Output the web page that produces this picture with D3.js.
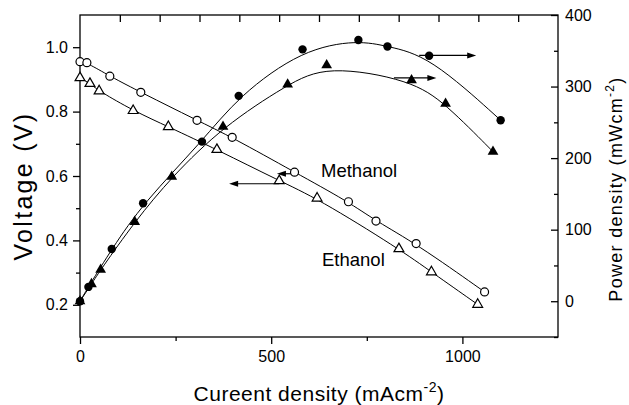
<!DOCTYPE html>
<html>
<head>
<meta charset="utf-8">
<script src="https://cdn.jsdelivr.net/npm/d3@7"></script>
<style>
  html, body { margin: 0; padding: 0; background: #fff; }
  svg { display: block; font-family: "Liberation Sans", Arial, Helvetica, sans-serif; }
</style>
</head>
<body>
<svg id="chart" width="629" height="405"></svg>
<script>
// ---- Data ----
// Methanol polarisation curve (voltage, left axis)
const methanolVI = [0, 18, 78, 159, 306, 398, 561, 702, 774, 879, 1058];
const methanolV  = [0.955, 0.952, 0.910, 0.860, 0.773, 0.720, 0.612, 0.520, 0.460, 0.390, 0.240];
// Ethanol polarisation curve (voltage, left axis)
const ethanolVI = [0, 26, 50, 139, 231, 358, 521, 620, 834, 919, 1040];
const ethanolV  = [0.905, 0.887, 0.864, 0.803, 0.753, 0.682, 0.585, 0.531, 0.374, 0.302, 0.201];
// Methanol power density (right axis)
const methanolPI = [0, 22, 83, 165, 319, 415, 582, 728, 804, 913, 1100];
const methanolP  = [0, 20, 73, 137, 223, 287, 352, 365, 356, 343, 253];
// Ethanol power density (right axis)
const ethanolPI = [0, 30, 54, 143, 240, 374, 543, 645, 867, 956, 1080];
const ethanolP  = [0, 24, 44, 111, 174, 244, 303, 330, 309, 276, 209];

// Axis ticks
const xMajorTicks = [0, 500, 1000];
const xMinorTicks = [250, 750];
const yLeftMajorTicks = [0.2, 0.4, 0.6, 0.8, 1.0];
const yLeftMinorTicks = [0.3, 0.5, 0.7, 0.9];
const yRightMajorTicks = [0, 100, 200, 300, 400];
const yRightMinorTicks = [-50, 50, 150, 250, 350];

// Annotations: series labels and arrows pointing to the axis of each curve
const seriesLabels = [
  { text: "Methanol", x: 630, v: 0.607 },
  { text: "Ethanol",  x: 630, v: 0.372 }
];
const arrows = [
  { axis: "left",  from: 560, to: 515, v: 0.607 },
  { axis: "left",  from: 521, to: 390, v: 0.576 },
  { axis: "right", from: 887, to: 1036, v: 343.5 },
  { axis: "right", from: 821, to: 932, v: 312 }
];

// ---- Layout ----
const svg = d3.select("#chart");
const L = 80, R = 558, T = 15, B = 337;

const x = d3.scaleLinear().domain([0, 1250]).range([L, R]);
const yL = d3.scaleLinear().domain([0.1, 1.1]).range([B, T]);
const yR = d3.scaleLinear().domain([-50, 400]).range([B, T]);

const fontTick = 16;

// Frame
svg.append("rect").attr("x", L).attr("y", T).attr("width", R - L).attr("height", B - T)
  .attr("fill", "none").attr("stroke", "#000").attr("stroke-width", 1.3);

function styleAxis(g) {
  g.select(".domain").remove();
  g.selectAll("line").attr("stroke", "#000").attr("stroke-width", 1.3);
  g.selectAll("text").attr("font-size", fontTick).attr("fill", "#000")
    .attr("font-family", '"Liberation Sans", Arial, sans-serif');
}

// Bottom axis
svg.append("g").attr("transform", `translate(0,${B})`)
  .call(d3.axisBottom(x).tickValues(xMajorTicks).tickSize(7).tickPadding(7).tickFormat(d3.format("d")))
  .call(styleAxis);
svg.append("g").attr("transform", `translate(0,${B})`)
  .call(d3.axisBottom(x).tickValues(xMinorTicks).tickSize(4).tickFormat(""))
  .call(styleAxis);
// Top axis (inward ticks, 12 equal divisions)
svg.append("g").attr("transform", `translate(0,${T})`)
  .call(d3.axisTop(x).tickValues(d3.range(1, 12).map(i => i * 1250 / 12)).tickSize(-7).tickFormat(""))
  .call(styleAxis);

// Left axis
svg.append("g").attr("transform", `translate(${L},0)`)
  .call(d3.axisLeft(yL).tickValues(yLeftMajorTicks).tickSize(7).tickPadding(5).tickFormat(d3.format(".1f")))
  .call(styleAxis);
svg.append("g").attr("transform", `translate(${L},0)`)
  .call(d3.axisLeft(yL).tickValues(yLeftMinorTicks).tickSize(4).tickFormat(""))
  .call(styleAxis);

// Right axis (inward ticks)
svg.append("g").attr("transform", `translate(${R},0)`)
  .call(d3.axisRight(yR).tickValues(yRightMajorTicks).tickSize(-7).tickPadding(7).tickFormat(d3.format("d")))
  .call(styleAxis);
svg.append("g").attr("transform", `translate(${R},0)`)
  .call(d3.axisRight(yR).tickValues(yRightMinorTicks).tickSize(-4).tickFormat(""))
  .call(styleAxis);

// Axis titles
const xt = svg.append("text").attr("x", (L + R) / 2).attr("y", 401).attr("text-anchor", "middle")
  .attr("font-size", 21).attr("letter-spacing", 0.5);
xt.append("tspan").text("Cureent density (mAcm");
xt.append("tspan").attr("font-size", 14).attr("dy", -9).text("-2");
xt.append("tspan").attr("dy", 9).text(")");

svg.append("text").attr("transform", "translate(32,186) rotate(-90)").attr("text-anchor", "middle")
  .attr("font-size", 25).attr("letter-spacing", 2.3).text("Voltage (V)");

const rt = svg.append("text").attr("transform", "translate(622,189) rotate(-90)").attr("text-anchor", "middle")
  .attr("font-size", 18).attr("letter-spacing", 1.3);
rt.append("tspan").text("Power density (mWcm");
rt.append("tspan").attr("font-size", 12).attr("dy", -8).text("-2");
rt.append("tspan").attr("dy", 8).text(")");

// ---- Curves ----
function series(xs, ys) { return xs.map((d, i) => [d, ys[i]]); }
const mV = series(methanolVI, methanolV);
const eV = series(ethanolVI, ethanolV);
const mP = series(methanolPI, methanolP);
const eP = series(ethanolPI, ethanolP);

const lineL = d3.line().x(d => x(d[0])).y(d => yL(d[1])).curve(d3.curveBasis);
const lineR = d3.line().x(d => x(d[0])).y(d => yR(d[1])).curve(d3.curveBasis);

const curves = svg.append("g").attr("fill", "none").attr("stroke", "#000").attr("stroke-width", 1);
curves.append("path").attr("d", lineL(mV));
curves.append("path").attr("d", lineL(eV));
curves.append("path").attr("d", lineR(mP));
curves.append("path").attr("d", lineR(eP));

// ---- Arrows ----
const arrowG = svg.append("g");
arrows.forEach(a => {
  const ys = a.axis === "left" ? yL : yR;
  const y = ys(a.v), x1 = x(a.from), x2 = x(a.to);
  const dir = Math.sign(x2 - x1);
  arrowG.append("line").attr("x1", x1).attr("y1", y).attr("x2", x2 - dir * 6).attr("y2", y)
    .attr("stroke", "#000").attr("stroke-width", 1.2);
  arrowG.append("path")
    .attr("d", `M${x2},${y} L${x2 - dir * 9},${y - 3} L${x2 - dir * 9},${y + 3} Z`)
    .attr("fill", "#000");
});

// ---- Markers ----
const mk = svg.append("g");
mk.selectAll(".ocirc").data(mV).join("circle")
  .attr("cx", d => x(d[0])).attr("cy", d => yL(d[1])).attr("r", 4)
  .attr("fill", "#fff").attr("stroke", "#000").attr("stroke-width", 1.2);
const tri = d3.symbol().type(d3.symbolTriangle).size(42);
mk.selectAll(".otri").data(eV).join("path")
  .attr("transform", d => `translate(${x(d[0])},${yL(d[1])})`).attr("d", tri)
  .attr("fill", "#fff").attr("stroke", "#000").attr("stroke-width", 1.2);
mk.selectAll(".fcirc").data(mP).join("circle")
  .attr("cx", d => x(d[0])).attr("cy", d => yR(d[1])).attr("r", 4.2)
  .attr("fill", "#000");
const triF = d3.symbol().type(d3.symbolTriangle).size(50);
mk.selectAll(".ftri").data(eP).join("path")
  .attr("transform", d => `translate(${x(d[0])},${yR(d[1])})`).attr("d", triF)
  .attr("fill", "#000");

// ---- Series labels ----
svg.append("text").attr("x", 321).attr("y", 177).attr("font-size", 18.5).text(seriesLabels[0].text);
svg.append("text").attr("x", 322).attr("y", 266).attr("font-size", 18.5).text(seriesLabels[1].text);
</script>
</body>
</html>
